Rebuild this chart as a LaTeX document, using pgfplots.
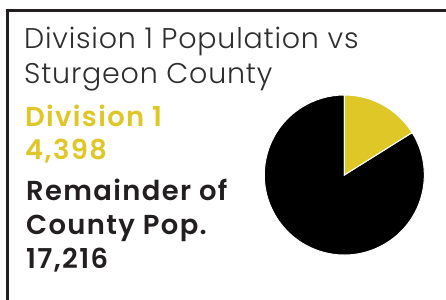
\documentclass[border=0pt]{standalone}
\usepackage{pgfplots}
\pgfplotsset{compat=1.18}
\usepackage{pgfplotstable}
\usepackage{fontspec}
\setmainfont{Poppins}
\newfontfamily\lightfont{Poppins Light}[LetterSpace=2.8]
\newfontfamily\medfont{Poppins SemiBold}[LetterSpace=5]
\definecolor{divyellow}{HTML}{DEC726}
\definecolor{inkblack}{HTML}{231F20}
\definecolor{titlegray}{HTML}{2E2E2E}

% pie shares (percent) as drawn in the reference
\pgfplotstableread{
slice share
Division1 16.1
Remainder 83.9
}\pietable

\begin{document}
\begin{tikzpicture}[x=1bp,y=1bp]
\useasboundingbox (0,0) rectangle (446,299);
\clip (0,0) rectangle (446,299);
\fill[white] (0,0) rectangle (446,299);
\draw[inkblack, line width=3bp] (7,-5) -- (7,288) -- (450,288);

\node[anchor=base west, inner sep=0, text=titlegray] at (24,251)
  {\lightfont\fontsize{28.6}{28.6}\selectfont Division 1 Population vs};
\node[anchor=base west, inner sep=0, text=titlegray] at (24,216)
  {\lightfont\fontsize{28.6}{28.6}\selectfont Sturgeon County};

\node[anchor=base west, inner sep=0, text=divyellow] at (25,173)
  {\medfont\fontsize{27.5}{27.5}\selectfont Division 1};
\node[anchor=base west, inner sep=0, text=divyellow] at (25,139.7)
  {\medfont\fontsize{27.5}{27.5}\selectfont 4,398};
\node[anchor=base west, inner sep=0, text=inkblack] at (26,99)
  {\medfont\fontsize{27.5}{27.5}\selectfont Remainder of};
\node[anchor=base west, inner sep=0, text=inkblack] at (26,65)
  {\medfont\fontsize{27.5}{27.5}\selectfont County Pop.};
\node[anchor=base west, inner sep=0, text=inkblack] at (26,30.7)
  {\medfont\fontsize{27.5}{27.5}\selectfont 17,216};

\pgfplotstablegetelem{0}{share}\of\pietable
\pgfmathsetmacro{\angA}{90-3.6*\pgfplotsretval}
\begin{axis}[at={(344.3bp,124bp)}, anchor=center, scale only axis,
  width=160bp, height=160bp, xmin=-1, xmax=1, ymin=-1, ymax=1,
  hide axis, clip=false]
\fill[black, draw=white, line width=1bp] (axis cs:0,0) -- (axis cs:{cos(\angA)},{sin(\angA)})
  arc[start angle=\angA, end angle=-270, radius=80bp] -- cycle;
\fill[divyellow, draw=white, line width=1bp] (axis cs:0,0) -- (axis cs:0,1)
  arc[start angle=90, end angle=\angA, radius=80bp] -- cycle;
\end{axis}
\end{tikzpicture}
\end{document}
